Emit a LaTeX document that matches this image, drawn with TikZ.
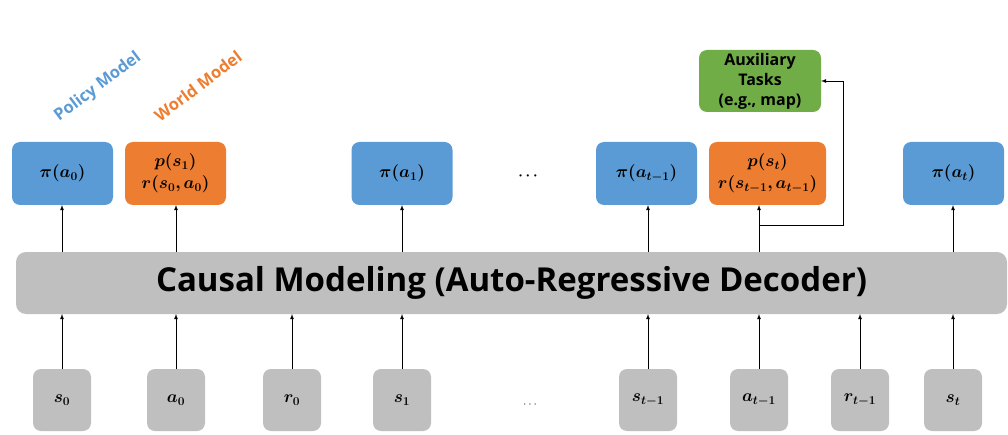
\documentclass[tikz,border=0pt]{standalone}
\usepackage{fontspec}
\setsansfont{Open Sans}
\usepackage{bm}
\usepackage{xcolor}
\usepackage{tikz}
\usetikzlibrary{calc}
\definecolor{Office-Blue}{RGB}{ 91, 155, 213}
\definecolor{Office-Orange}{RGB}{237, 125,  49}
\definecolor{Office-Green}{RGB}{112, 173,  71}
\definecolor{Office-Gray}{RGB}{191, 191, 191}
\tikzstyle{e}=[line width=0.8pt,arrows={-latex}]
\tikzstyle{n}=[rectangle,rounded corners=8pt,draw=none,inner sep=0pt,outer sep=0pt,font=\fontsize{17.5}{22}\selectfont]
\tikzstyle{token}=[n,fill=Office-Gray,minimum width=58pt,minimum height=62pt]
\tikzstyle{policy}=[n,fill=Office-Blue,minimum width=101pt,minimum height=63pt]
\tikzstyle{world}=[n,fill=Office-Orange,minimum width=101pt,minimum height=63pt,align=center]
\tikzstyle{auxiliary}=[n,fill=Office-Green,minimum width=122pt,minimum height=62pt,align=center,font=\sffamily\bfseries\fontsize{16}{20}\selectfont]
\tikzstyle{decoder}=[n,fill=Office-Gray,rounded corners=10pt,minimum width=991pt,minimum height=62pt,font=\sffamily\bfseries\fontsize{33}{38}\selectfont]
\tikzstyle{model}=[font=\sffamily\bfseries\fontsize{16.5}{18}\selectfont,rotate=37,inner sep=0pt]

\begin{document}
\begin{tikzpicture}[x=1pt,y=1pt]
\useasboundingbox (0,0) rectangle (1008,434);

% Nodes
\node[token]     (s0)   at (62, 34)      {$\bm{s_0}$};
\node[token]     (a0)   at (176, 34)     {$\bm{a_0}$};
\node[token]     (r0)   at (292, 34)     {$\bm{r_0}$};
\node[token]     (s1)   at (402, 34)     {$\bm{s_1}$};
\node[font=\fontsize{12}{14}\selectfont,text=black!80] (bottom dots) at (530, 29) {$\cdots$};
\node[token]     (st1)  at (648, 34)     {$\bm{s_{t-1}}$};
\node[token]     (at1)  at (759, 34)     {$\bm{a_{t-1}}$};
\node[token]     (rt1)  at (860, 34)     {$\bm{r_{t-1}}$};
\node[token]     (st)   at (953, 34)     {$\bm{s_t}$};
\node[decoder]   (causal) at (511.5, 151) {Causal Modeling (Auto-Regressive Decoder)};
\node[policy]    (pi0)  at (62.5, 260.5) {$\bm{\pi(a_0)}$};
\node[world]     (ps1)  at (175.5, 260.5) {$\bm{p(s_1)}$\\$\bm{r(s_0,a_0)}$};
\node[policy]    (pi1)  at (402, 260.5)  {$\bm{\pi(a_1)}$};
\node[font=\fontsize{15}{18}\selectfont] (top dots) at (528, 258) {$\bm{\cdots}$};
\node[policy]    (pit1) at (646.5, 260.5) {$\bm{\pi(a_{t-1})}$};
\node[world,minimum width=117pt] (pst) at (767.5, 260.5) {$\bm{p(s_t)}$\\$\bm{r(s_{t-1},a_{t-1})}$};
\node[policy]    (pit)  at (953.5, 260.5) {$\bm{\pi(a_t)}$};
\node[auxiliary] (aux)  at (760, 353)    {Auxiliary\\Tasks\\(e.g., map)};
\node[model,text=Office-Blue]   (policy label) at (98, 347)  {Policy Model};
\node[model,text=Office-Orange] (world label)  at (198, 348) {World Model};
\coordinate      (branch) at (759, 209);

% Edges
\draw (s0)  edge[e] (s0 |- causal.south)
      (a0)  edge[e] (a0 |- causal.south)
      (r0)  edge[e] (r0 |- causal.south)
      (s1)  edge[e] (s1 |- causal.south)
      (st1) edge[e] (st1 |- causal.south)
      (at1) edge[e] (at1 |- causal.south)
      (rt1) edge[e] (rt1 |- causal.south)
      (st)  edge[e] (st |- causal.south);
\draw (s0 |- causal.north)  edge[e] (s0 |- pi0.south)
      (a0 |- causal.north)  edge[e] (a0 |- ps1.south)
      (s1 |- causal.north)  edge[e] (s1 |- pi1.south)
      (st1 |- causal.north) edge[e] (st1 |- pit1.south)
      (at1 |- causal.north) edge[e] (at1 |- pst.south)
      (st |- causal.north)  edge[e] (st |- pit.south);
\draw[e] (branch) -| ([xshift=22pt]aux.east) -- (aux.east);

\end{tikzpicture}
\end{document}
